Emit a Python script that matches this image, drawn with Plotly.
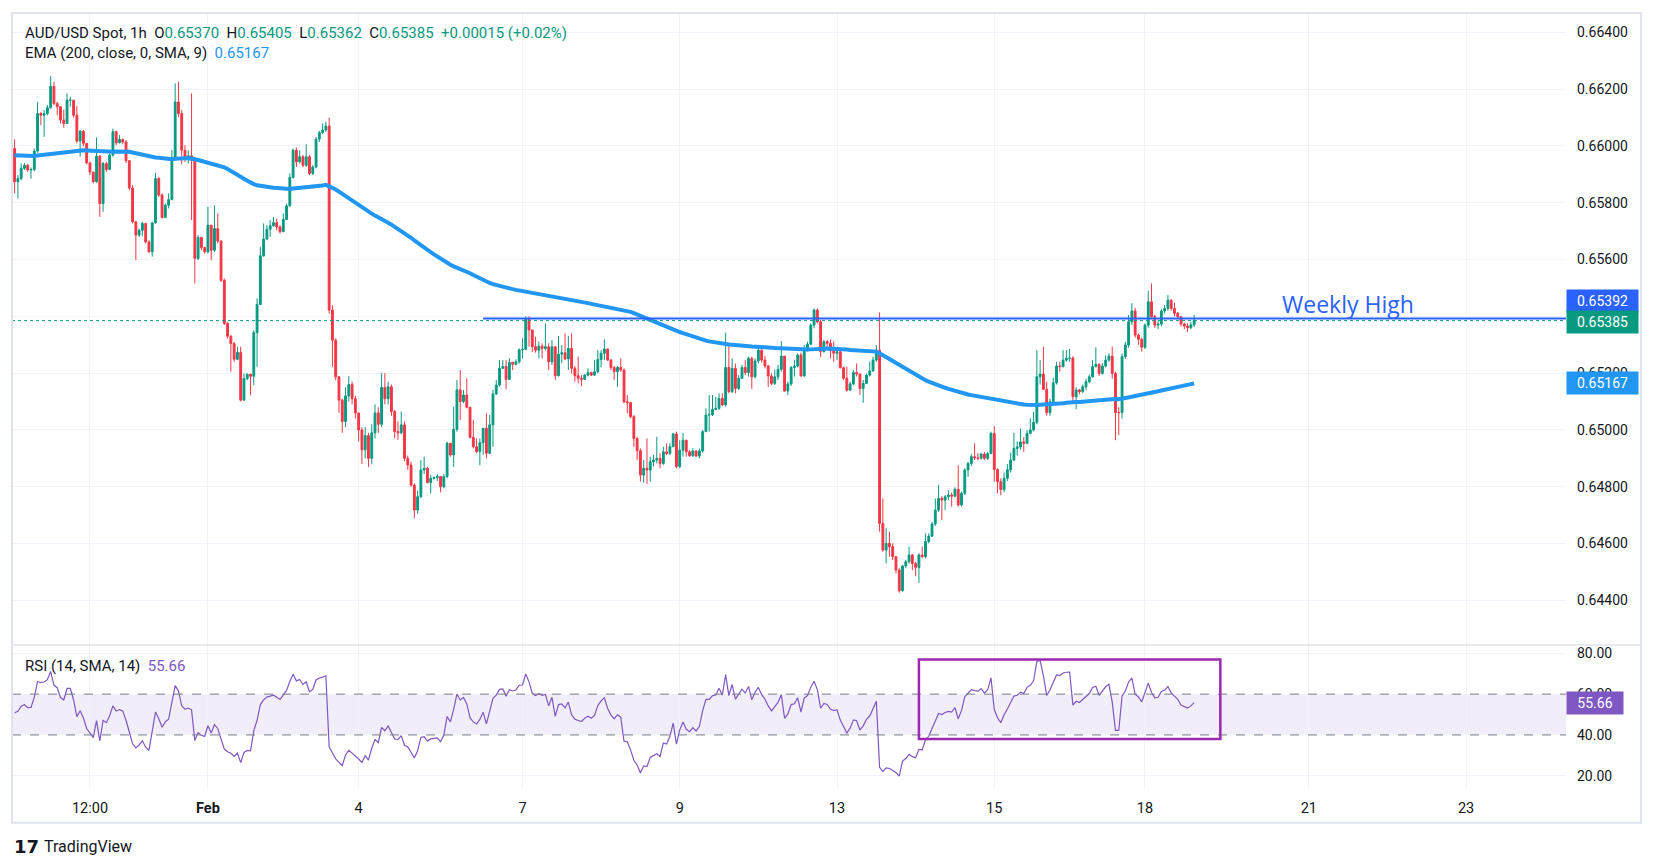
import pandas as pd
import plotly.graph_objects as go
from plotly.subplots import make_subplots

# AUD/USD 1h candles, prices in units of 0.00001
first_open5 = 65991
close5 = [
    65874, 65885, 65921, 65932, 65915, 65917, 65982, 66114, 66108, 66114,
    66134, 66210, 66149, 66138, 66091, 66079, 66161, 66161, 66108, 66017,
    66052, 66009, 65940, 65908, 65874, 65964, 65797, 65938, 65917, 65968,
    66050, 66011, 66023, 66014, 65948, 65852, 65733, 65686, 65703, 65727,
    65662, 65627, 65729, 65885, 65827, 65748, 65791, 65811, 65958, 66155,
    66114, 65985, 65953, 65965, 65950, 65604, 65678, 65642, 65627, 65721,
    65633, 65709, 65665, 65527, 65375, 65330, 65304, 65249, 65273, 65105,
    65181, 65196, 65189, 65343, 65442, 65613, 65672, 65707, 65719, 65730,
    65715, 65698, 65741, 65789, 65889, 65985, 65944, 65962, 65932, 65962,
    65903, 65926, 66024, 66047, 66056, 66070, 65422, 65316, 65187, 65105,
    65030, 65120, 65160, 65110, 65060, 65000, 64930, 64980, 64900, 64990,
    65060, 65020, 65150, 65110, 65152, 65065, 64994, 64990, 65018, 64900,
    64877, 64806, 64718, 64765, 64859, 64865, 64815, 64830, 64832, 64836,
    64800, 64836, 64953, 64912, 65002, 65141, 65100, 65123, 65080, 64974,
    64941, 64924, 64955, 65006, 64918, 65018, 65127, 65158, 65217, 65223,
    65178, 65238, 65231, 65240, 65282, 65284, 65390, 65352, 65293, 65281,
    65295, 65287, 65293, 65240, 65293, 65191, 65267, 65272, 65250, 65287,
    65217, 65191, 65182, 65178, 65193, 65202, 65193, 65205, 65248, 65270,
    65285, 65246, 65220, 65205, 65220, 65211, 65099, 65096, 65047, 64970,
    64927, 64841, 64865, 64859, 64888, 64894, 64900, 64882, 64923, 64917,
    64941, 64986, 64871, 64929, 64964, 64923, 64909, 64926, 64908, 64926,
    64994, 65053, 65053, 65072, 65076, 65111, 65088, 65220, 65135, 65217,
    65146, 65182, 65220, 65202, 65252, 65187, 65243, 65281, 65246, 65225,
    65190, 65164, 65187, 65213, 65260, 65137, 65162, 65220, 65225, 65264,
    65190, 65284, 65302, 65369, 65422, 65381, 65276, 65311, 65305, 65279,
    65270, 65275, 65219, 65182, 65140, 65162, 65202, 65197, 65146, 65164,
    65193, 65208, 65246, 65281, 64671, 64577, 64601, 64589, 64554, 64507,
    64434, 64521, 64536, 64560, 64530, 64516, 64560, 64554, 64607, 64626,
    64669, 64718, 64759, 64753, 64765, 64771, 64767, 64791, 64736, 64777,
    64859, 64882, 64906, 64902, 64900, 64915, 64900, 64917, 64988, 64861,
    64818, 64790, 64830, 64860, 64894, 64935, 64940, 64958, 64953, 64988,
    65000, 65027, 65187, 65197, 65143, 65061, 65099, 65166, 65225, 65223,
    65246, 65252, 65253, 65117, 65141, 65135, 65152, 65170, 65187, 65223,
    65231, 65199, 65225, 65246, 65260, 65199, 65061, 65061, 65258, 65299,
    65381, 65419, 65334, 65319, 65291, 65369, 65451, 65399, 65369, 65373,
    65419, 65428, 65457, 65428, 65411, 65399, 65373, 65366, 65360, 65370,
    65385,
]
high5 = [
    66023, 65897, 65938, 65940, 65936, 65924, 65991, 66155, 66120, 66126,
    66144, 66246, 66226, 66155, 66138, 66128, 66185, 66173, 66161, 66140,
    66056, 66056, 66003, 65944, 65908, 66030, 65968, 65944, 65944, 65973,
    66061, 66053, 66038, 66026, 66020, 65950, 65862, 65735, 65709, 65733,
    65729, 65668, 65733, 65905, 65891, 65833, 65797, 65833, 65985, 66220,
    66226, 66126, 66003, 65985, 66185, 65962, 65686, 65680, 65645, 65786,
    65721, 65791, 65762, 65668, 65533, 65381, 65334, 65310, 65293, 65293,
    65199, 65199, 65199, 65351, 65463, 65645, 65727, 65721, 65739, 65750,
    65744, 65721, 65762, 65797, 65903, 65991, 65995, 65985, 65968, 66006,
    65968, 65932, 66032, 66053, 66079, 66085, 66100, 65439, 65322, 65190,
    65110, 65150, 65190, 65170, 65120, 65060, 65010, 65010, 64990, 65020,
    65090, 65080, 65200, 65200, 65170, 65160, 65070, 65030, 65065, 65030,
    64910, 64888, 64812, 64785, 64894, 64906, 64870, 64842, 64836, 64845,
    64836, 64845, 64959, 64953, 65082, 65176, 65211, 65141, 65182, 65082,
    65035, 64970, 64970, 65006, 65058, 65053, 65141, 65176, 65246, 65246,
    65246, 65252, 65240, 65249, 65287, 65322, 65400, 65400, 65352, 65328,
    65311, 65305, 65375, 65305, 65317, 65293, 65331, 65299, 65340, 65331,
    65340, 65225, 65258, 65193, 65197, 65217, 65205, 65246, 65281, 65281,
    65319, 65287, 65250, 65225, 65225, 65252, 65217, 65123, 65099, 65053,
    64976, 64935, 64894, 64970, 64906, 64912, 64976, 64918, 64941, 64953,
    64953, 64990, 64994, 64964, 64990, 64964, 64929, 64935, 64929, 64935,
    65000, 65076, 65123, 65123, 65117, 65129, 65129, 65342, 65307, 65252,
    65234, 65193, 65229, 65246, 65258, 65258, 65252, 65299, 65284, 65260,
    65229, 65199, 65213, 65229, 65313, 65260, 65170, 65225, 65246, 65270,
    65272, 65299, 65311, 65375, 65428, 65428, 65387, 65317, 65317, 65319,
    65311, 65293, 65279, 65223, 65223, 65170, 65211, 65234, 65199, 65176,
    65199, 65240, 65258, 65299, 65414, 64759, 64654, 64642, 64601, 64556,
    64513, 64524, 64542, 64589, 64563, 64536, 64566, 64589, 64636, 64636,
    64677, 64759, 64806, 64767, 64771, 64788, 64779, 64798, 64876, 64783,
    64865, 64888, 64915, 64953, 64918, 64920, 64923, 64923, 64994, 65014,
    64865, 64830, 64850, 64880, 64920, 64990, 64960, 65005, 64975, 65000,
    65041, 65064, 65281, 65246, 65293, 65170, 65110, 65184, 65240, 65240,
    65281, 65281, 65285, 65260, 65150, 65145, 65160, 65180, 65195, 65246,
    65291, 65235, 65235, 65263, 65270, 65293, 65205, 65080, 65270, 65310,
    65405, 65446, 65430, 65340, 65325, 65375, 65490, 65516, 65405, 65385,
    65425, 65440, 65475, 65460, 65448, 65415, 65400, 65378, 65375, 65380,
    65405,
]
low5 = [
    65833, 65815, 65879, 65915, 65909, 65885, 65911, 65976, 66073, 66032,
    66108, 66132, 66144, 66108, 66079, 66064, 66077, 66138, 66100, 66009,
    65962, 65999, 65936, 65897, 65868, 65870, 65750, 65768, 65909, 65915,
    65962, 66003, 66009, 66006, 65940, 65844, 65727, 65598, 65680, 65682,
    65657, 65624, 65610, 65727, 65821, 65744, 65748, 65780, 65809, 65956,
    66102, 65935, 65944, 65938, 65739, 65516, 65598, 65633, 65621, 65621,
    65598, 65627, 65657, 65521, 65369, 65322, 65205, 65240, 65246, 65100,
    65105, 65175, 65122, 65158, 65222, 65439, 65610, 65668, 65680, 65715,
    65703, 65692, 65698, 65741, 65786, 65885, 65926, 65938, 65926, 65926,
    65897, 65897, 65921, 66014, 66041, 66050, 65410, 65222, 65175, 65060,
    64990, 65010, 65100, 65090, 65040, 64960, 64880, 64900, 64870, 64880,
    64970, 64990, 65010, 65090, 65090, 65050, 64970, 64965, 64985, 64890,
    64860, 64800, 64689, 64705, 64760, 64845, 64812, 64777, 64825, 64820,
    64780, 64795, 64830, 64906, 64870, 64994, 65035, 65094, 65076, 64970,
    64935, 64918, 64876, 64912, 64900, 64915, 64941, 65123, 65152, 65217,
    65143, 65176, 65211, 65228, 65234, 65252, 65281, 65293, 65275, 65272,
    65252, 65252, 65281, 65211, 65229, 65176, 65188, 65235, 65246, 65211,
    65199, 65170, 65164, 65155, 65176, 65188, 65190, 65193, 65199, 65220,
    65246, 65243, 65211, 65176, 65152, 65205, 65094, 65059, 65041, 64941,
    64894, 64818, 64814, 64810, 64818, 64871, 64882, 64865, 64877, 64912,
    64912, 64941, 64865, 64865, 64906, 64906, 64906, 64906, 64906, 64900,
    64920, 64994, 64994, 65049, 65070, 65070, 65084, 65082, 65129, 65130,
    65129, 65141, 65180, 65193, 65188, 65145, 65182, 65234, 65237, 65217,
    65152, 65158, 65158, 65176, 65205, 65135, 65123, 65155, 65188, 65220,
    65188, 65188, 65276, 65299, 65358, 65375, 65256, 65272, 65293, 65252,
    65240, 65246, 65217, 65176, 65135, 65140, 65158, 65188, 65123, 65096,
    65162, 65188, 65205, 65240, 64642, 64571, 64530, 64554, 64542, 64495,
    64427, 64431, 64513, 64530, 64507, 64486, 64462, 64548, 64548, 64601,
    64624, 64662, 64712, 64683, 64718, 64753, 64730, 64763, 64730, 64730,
    64771, 64835, 64873, 64894, 64894, 64896, 64894, 64894, 64915, 64818,
    64777, 64770, 64780, 64820, 64850, 64890, 64910, 64930, 64923, 64950,
    64985, 64995, 65020, 65160, 65140, 65050, 65050, 65090, 65160, 65205,
    65220, 65240, 65240, 65100, 65073, 65125, 65130, 65140, 65165, 65185,
    65220, 65190, 65195, 65220, 65240, 65180, 64964, 64982, 65040, 65250,
    65290, 65370, 65325, 65300, 65276, 65285, 65360, 65390, 65360, 65355,
    65365, 65410, 65420, 65420, 65400, 65390, 65365, 65355, 65345, 65355,
    65362,
]

start_time = "2024-01-29 13:00"
ema_start = 0.65967          # EMA(200) value at the first bar
rsi_seed_gain5, rsi_seed_loss5 = 30, 20

weekly_high = 0.65392
weekly_high_from = "2024-02-06 12:00"
ema_label = 0.65167
rsi_label = 55.66

box_from, box_to = "2024-02-14 01:00", "2024-02-19 21:00"
box_rsi_low, box_rsi_high = 38.0, 77.0

tick_times = ["2024-01-30 12:00", "2024-02-01 00:00", "2024-02-04 22:00", "2024-02-07 00:00",
              "2024-02-09 00:00", "2024-02-13 00:00", "2024-02-15 00:00", "2024-02-18 22:00",
              "2024-02-21 00:00", "2024-02-23 00:00"]
tick_text = ["12:00", "<b>Feb</b>", "4", "7", "9", "13", "15", "18", "21", "23"]
price_ticks = [0.644, 0.646, 0.648, 0.650, 0.652, 0.654, 0.656, 0.658, 0.660, 0.662, 0.664]
rsi_ticks = [20, 40, 60, 80]

UP, DOWN = "#089981", "#f23645"
EMA_C, LINE_C, RSI_C, BOX_C = "#2196f3", "#2962ff", "#7e57c2", "#9c27b0"
TXT, GRID, FRAME = "#131722", "#f0f3fa", "#e0e3eb"

# trading hours (FX closed Fri 22:00 - Sun 22:00 UTC)
hours = pd.date_range(start_time, "2024-02-24 00:00", freq="h")
times = [t for t in hours
         if not (t.weekday() == 5 or (t.weekday() == 4 and t.hour >= 22) or (t.weekday() == 6 and t.hour < 22))]
pos = {t.strftime("%Y-%m-%d %H:%M"): i for i, t in enumerate(times)}

n = len(close5)
idx = list(range(n))
closes = [c / 1e5 for c in close5]
opens = [first_open5 / 1e5] + closes[:-1]
highs = [max(h / 1e5, o, c) for h, o, c in zip(high5, opens, closes)]
lows = [min(l / 1e5, o, c) for l, o, c in zip(low5, opens, closes)]

ema = [ema_start]
k = 2 / 201
for c in closes[1:]:
    ema.append(ema[-1] + k * (c - ema[-1]))

rsi = []
g, l = rsi_seed_gain5, rsi_seed_loss5
prev = first_open5
for c in close5:
    d = c - prev
    g = (g * 13 + max(d, 0)) / 14
    l = (l * 13 + max(-d, 0)) / 14
    rsi.append(100 - 100 / (1 + g / l))
    prev = c

x_lo, x_hi = -0.8, 473.5

fig = make_subplots(rows=2, cols=1, shared_xaxes=True, vertical_spacing=0,
                    row_heights=[0.8144, 0.1856])

fig.add_trace(go.Candlestick(
    x=idx, open=opens, high=highs, low=lows, close=closes,
    increasing=dict(line=dict(color=UP, width=1), fillcolor=UP),
    decreasing=dict(line=dict(color=DOWN, width=1), fillcolor=DOWN),
    whiskerwidth=0, showlegend=False, hoverinfo="skip"), row=1, col=1)

fig.add_trace(go.Scatter(x=idx, y=ema, mode="lines", line=dict(color=EMA_C, width=4),
                         showlegend=False, hoverinfo="skip"), row=1, col=1)

fig.add_trace(go.Scatter(x=[x_lo, x_hi], y=[closes[-1]] * 2, mode="lines",
                         line=dict(color=UP, width=1, dash="dot"),
                         showlegend=False, hoverinfo="skip"), row=1, col=1)

fig.add_trace(go.Scatter(x=[pos[weekly_high_from], x_hi], y=[weekly_high] * 2, mode="lines",
                         line=dict(color=LINE_C, width=2),
                         showlegend=False, hoverinfo="skip"), row=1, col=1)

fig.add_trace(go.Scatter(x=idx, y=rsi, mode="lines", line=dict(color=RSI_C, width=1.2),
                         showlegend=False, hoverinfo="skip"), row=2, col=1)

# RSI band
fig.add_shape(type="rect", xref="x2 domain", yref="y2", x0=0, x1=1, y0=40, y1=60,
              fillcolor="rgba(126,87,194,0.1)", line_width=0, layer="below")
for lvl in (40, 60):
    fig.add_shape(type="line", xref="x2 domain", yref="y2", x0=0, x1=1, y0=lvl, y1=lvl,
                  line=dict(color="#787b86", width=1, dash="dash"))

fig.add_shape(type="rect", xref="x2", yref="y2", x0=pos[box_from], x1=pos[box_to],
              y0=box_rsi_low, y1=box_rsi_high, line=dict(color=BOX_C, width=2.5))

# frame and pane separator
fig.add_shape(type="rect", xref="paper", yref="paper", x0=0, x1=1.0483, y0=-0.0434, y1=1,
              line=dict(color=FRAME, width=2))
fig.add_shape(type="line", xref="paper", yref="paper", x0=0, x1=1.0483, y0=0.1856, y1=0.1856,
              line=dict(color=FRAME, width=1.5))

nb = "\u00a0"


def col(t, c):
    return f"<span style='color:{c}'>{t}</span>"


o_last, h_last, l_last, c_last = opens[-1], highs[-1], lows[-1], closes[-1]
chg = c_last - o_last
title = ("AUD/USD Spot, 1h" + nb * 2 + "O" + col(f"{o_last:.5f}", UP) + nb * 2 + "H" + col(f"{h_last:.5f}", UP)
         + nb * 2 + "L" + col(f"{l_last:.5f}", UP) + nb * 2 + "C" + col(f"{c_last:.5f}", UP) + nb * 2
         + col(f"{chg:+.5f} ({chg / o_last * 100:+.2f}%)", UP))
fig.add_annotation(xref="paper", yref="paper", x=0.0071, y=0.9746, xanchor="left", yanchor="middle",
                   text=title, showarrow=False, font=dict(size=15, color=TXT))
fig.add_annotation(xref="paper", yref="paper", x=0.0071, y=0.9488, xanchor="left", yanchor="middle",
                   text="EMA (200, close, 0, SMA, 9)" + nb * 2 + col(f"{ema_label:.5f}", EMA_C),
                   showarrow=False, font=dict(size=15, color=TXT))
fig.add_annotation(xref="paper", yref="paper", x=0.0071, y=0.159, xanchor="left", yanchor="middle",
                   text="RSI (14, SMA, 14)" + nb * 2 + col(f"{rsi_label:.2f}", RSI_C),
                   showarrow=False, font=dict(size=15, color=TXT))
fig.add_annotation(x=407, y=weekly_high, xref="x", yref="y", yshift=15, text="Weekly High",
                   showarrow=False, font=dict(size=23, color=LINE_C, family="Open Sans"))

# price tags on the right scale
for val, c, shift, ref, fmt, w in [(weekly_high, LINE_C, 18, "y", ".5f", 69),
                                   (c_last, UP, -1, "y", ".5f", 69),
                                   (ema_label, EMA_C, 0, "y", ".5f", 69),
                                   (rsi_label, RSI_C, 0, "y2", ".2f", 54)]:
    fig.add_annotation(xref="paper", yref=ref, x=1, y=val, xanchor="left", yanchor="middle", yshift=shift,
                       text=format(val, fmt), showarrow=False, bgcolor=c, width=w, height=20,
                       align="center", font=dict(size=14, color="white"))

fig.add_annotation(xref="paper", yref="paper", x=0.0003, y=-0.0735, xanchor="left", yanchor="middle",
                   text="<b>17</b>", showarrow=False, font=dict(size=18, color=TXT, family="DejaVu Sans"))
fig.add_annotation(xref="paper", yref="paper", x=0.0193, y=-0.0735, xanchor="left", yanchor="middle",
                   text="TradingView", showarrow=False, font=dict(size=16, color=TXT))

tickvals = [pos[t] for t in tick_times]
fig.update_xaxes(range=[x_lo, x_hi], tickvals=tickvals, ticktext=tick_text, showgrid=True,
                 gridcolor=GRID, zeroline=False, showline=False, ticks="", rangeslider_visible=False)
fig.update_xaxes(showticklabels=False, row=1, col=1)
fig.update_xaxes(tickfont=dict(size=14.5, color=TXT), ticklabelstandoff=8, row=2, col=1)
fig.update_yaxes(side="right", range=[0.64243, 0.66468], tickvals=price_ticks, tickformat=".5f",
                 gridcolor=GRID, zeroline=False, ticks="", tickfont=dict(size=14, color=TXT),
                 ticklabelstandoff=10, row=1, col=1)
fig.update_yaxes(side="right", range=[13.5, 84.1], tickvals=rsi_ticks, tickformat=".2f",
                 gridcolor=GRID, zeroline=False, ticks="", tickfont=dict(size=14, color=TXT),
                 ticklabelstandoff=10, row=2, col=1)

# the page body adds an 8px offset, so the figure is 8px smaller and margins shifted
fig.update_layout(width=1646, height=860, margin=dict(l=4, r=88, t=5, b=79),
                  plot_bgcolor="white", paper_bgcolor="white", boxgap=0.2,
                  font=dict(family="Roboto", color=TXT), hovermode=False)

fig.write_html("out.html")
